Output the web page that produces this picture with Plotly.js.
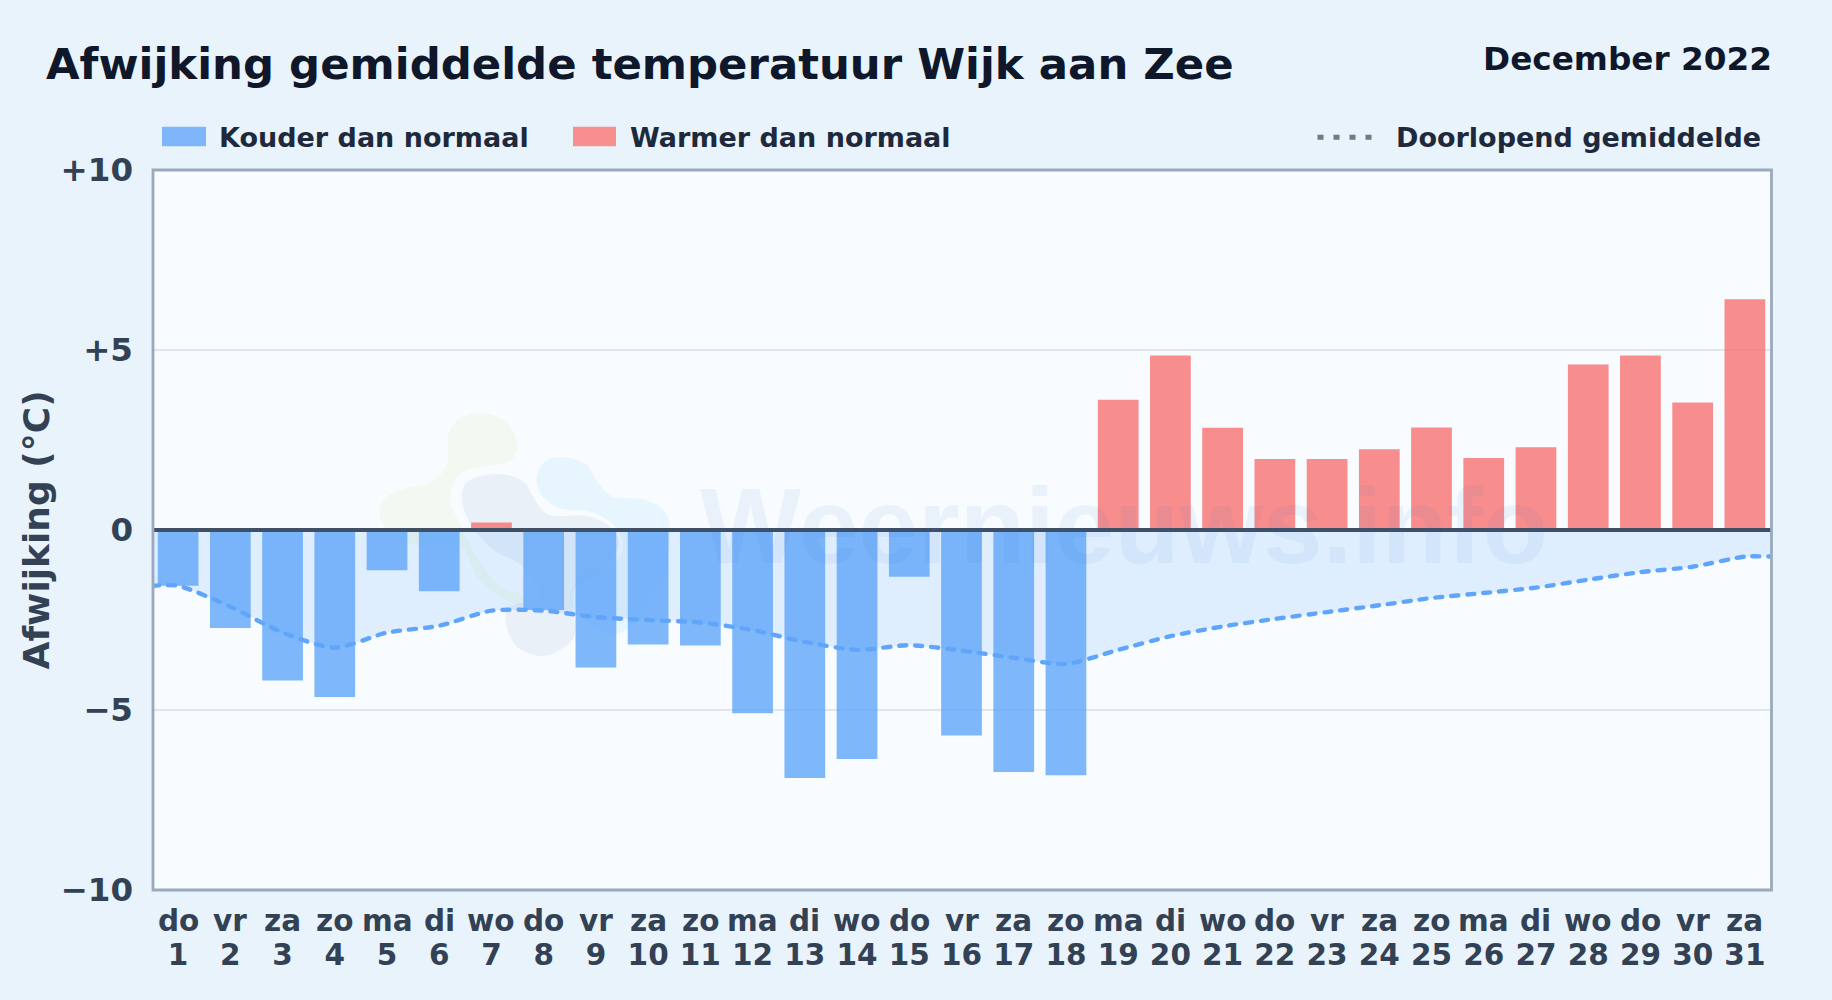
<!DOCTYPE html>
<html><head><meta charset="utf-8">
<script src="https://cdn.plot.ly/plotly-3.0.1.min.js"></script>
<style>html,body{margin:0;padding:0;background:#e8f3fc;overflow:hidden}#c{width:1832px;height:1000px}
.scatterlayer .js-line{stroke-linecap:round}</style>
</head><body><div id="c"></div>
<script>
const days=[1,2,3,4,5,6,7,8,9,10,11,12,13,14,15,16,17,18,19,20,21,22,23,24,25,26,27,28,29,30,31];
const weekdays=['do','vr','za','zo','ma','di','wo','do','vr','za','zo','ma','di','wo','do','vr','za','zo','ma','di','wo','do','vr','za','zo','ma','di','wo','do','vr','za'];
const deviation=[-1.55,-2.72,-4.18,-4.64,-1.12,-1.70,0.21,-2.22,-3.82,-3.18,-3.21,-5.09,-6.89,-6.36,-1.30,-5.71,-6.72,-6.81,3.62,4.85,2.84,1.97,1.97,2.24,2.85,2.00,2.30,4.60,4.85,3.54,6.41];
const runningX=[0.5,1,2,3,4,5,6,7,8,9,10,11,12,13,14,15,16,17,18,19,20,21,22,23,24,25,26,27,28,29,30,31,31.5];
const runningMean=[-1.55,-1.55,-2.13,-2.85,-3.27,-2.85,-2.66,-2.24,-2.24,-2.42,-2.50,-2.57,-2.78,-3.11,-3.33,-3.20,-3.35,-3.55,-3.72,-3.33,-2.95,-2.68,-2.47,-2.28,-2.09,-1.89,-1.75,-1.60,-1.38,-1.17,-1.02,-0.74,-0.74];
const yTicks=[-10,-5,0,5,10];
const yTickText=['\u221210','\u22125','0','+5','+10'];

const W=1832,H=1000,L=152,R=1771,T=169.7,B=890.3;
const fx=p=>(p-L)/(R-L), fy=p=>(B-p)/(B-T);
function blob(pts,color){
  const P=pts.map(([a,b])=>[360+a/3,400+b/3]),n=P.length;
  let d=`M ${fx(P[0][0])} ${fy(P[0][1])}`;
  for(let i=0;i<n;i++){
    const p0=P[(i-1+n)%n],p1=P[i],p2=P[(i+1)%n],p3=P[(i+2)%n];
    const c1=[p1[0]+(p2[0]-p0[0])/6,p1[1]+(p2[1]-p0[1])/6],c2=[p2[0]-(p3[0]-p1[0])/6,p2[1]-(p3[1]-p1[1])/6];
    d+=` C ${fx(c1[0])} ${fy(c1[1])} ${fx(c2[0])} ${fy(c2[1])} ${fx(p2[0])} ${fy(p2[1])}`;
  }
  return {type:'path',xref:'paper',yref:'paper',path:d+' Z',fillcolor:color,line:{width:0},layer:'below'};
}
const green=[[265,105],[300,55],[370,40],[440,65],[472,130],[455,180],[395,195],[320,210],[280,250],[272,310],[300,370],[350,470],[420,560],[490,585],[500,620],[440,600],[360,540],[300,440],[200,440],[100,410],[60,345],[80,290],[140,265],[215,245],[262,190]];
const grey=[[305,290],[330,240],[420,222],[490,245],[525,300],[570,345],[680,348],[750,380],[775,440],[720,520],[640,570],[645,700],[600,750],[540,768],[470,740],[438,670],[450,620],[540,590],[490,500],[400,450],[330,370]];
const blue=[[530,230],[560,180],[620,172],[680,195],[715,250],[760,290],[850,298],[910,330],[930,380],[925,450],[905,560],[800,690],[720,690],[650,640],[630,590],[660,540],[760,490],[790,430],[755,370],[690,335],[600,325],[545,285]];

const dark='#0f172a', legendInk='#1e293b', tick='#334155';
function txt(text,x,y,size,color,anchor){
  return {xref:'paper',yref:'paper',x:fx(x),y:fy(y),text,showarrow:false,xanchor:anchor||'left',yanchor:'middle',
    font:{family:'"DejaVu Sans"',size,color,weight:700}};
}
const traces=[
 {type:'scatter',mode:'lines',x:runningX,y:runningMean,fill:'tozeroy',fillcolor:'rgba(96,165,250,0.16)',
  line:{color:'#60a5fa',width:4.4,dash:'7px 9px',shape:'spline',smoothing:0.7},hoverinfo:'skip',showlegend:false,name:'Doorlopend gemiddelde'},
 {type:'bar',x:days,y:deviation.map(v=>v<0?v:null),width:0.78,marker:{color:'rgba(96,165,250,0.8)',line:{width:0}},name:'Kouder dan normaal',showlegend:false},
 {type:'bar',x:days,y:deviation.map(v=>v>=0?v:null),width:0.78,marker:{color:'rgba(248,113,113,0.8)',line:{width:0}},name:'Warmer dan normaal',showlegend:false}
];
const layout={
 width:W,height:H,paper_bgcolor:'#e8f3fc',plot_bgcolor:'#f8fcff',showlegend:false,barmode:'overlay',
 margin:{l:L,r:W-R,t:T,b:H-B,pad:0},
 title:{text:'Afwijking gemiddelde temperatuur Wijk aan Zee',xref:'container',yref:'container',x:46/W,y:1-64/H,xanchor:'left',yanchor:'middle',
   font:{family:'"DejaVu Sans"',size:43.4,color:dark,weight:700}},
 xaxis:{range:[0.5,31.5],tickmode:'array',tickvals:days,ticktext:days.map(String),showgrid:false,zeroline:false,
   tickfont:{family:'"DejaVu Sans"',size:29.5,color:tick,weight:700},ticks:'',showline:false,tickangle:0,ticklabelstandoff:44},
 yaxis:{range:[-10,10],tickmode:'array',tickvals:yTicks,ticktext:yTickText,gridcolor:'#dde6ee',gridwidth:1.5,zeroline:false,
   tickfont:{family:'"DejaVu Sans"',size:32.5,color:tick,weight:700},ticks:'',showline:false,ticklabelstandoff:18},
 shapes:[
  blob(green,'rgba(190,225,130,0.11)'),blob(grey,'rgba(40,90,160,0.07)'),blob(blue,'rgba(90,185,250,0.1)'),
  {type:'line',xref:'paper',yref:'y',x0:0,x1:1,y0:0,y1:0,line:{color:'#3f4f66',width:4},layer:'above'},
  {type:'rect',xref:'paper',yref:'paper',x0:fx(153),x1:fx(1771.5),y0:0,y1:1,line:{color:'#9aa9bd',width:2.8},layer:'above'},
  {type:'rect',xref:'paper',yref:'paper',x0:fx(162),x1:fx(206),y0:fy(126.5),y1:fy(146),fillcolor:'#7fb6fb',line:{width:0}},
  {type:'rect',xref:'paper',yref:'paper',x0:fx(573),x1:fx(616),y0:fy(126.5),y1:fy(146),fillcolor:'#f88f8f',line:{width:0}},
  {type:'line',xref:'paper',yref:'paper',x0:fx(1317.5),x1:fx(1376),y0:fy(137),y1:fy(137),line:{color:'#6b7a8d',width:5,dash:'6px 10px'}}
 ],
 annotations:[
  {xref:'paper',yref:'paper',x:fx(1123.5),y:fy(526),text:'Weernieuws.info',showarrow:false,xanchor:'center',yanchor:'middle',
   font:{family:'"Liberation Sans"',size:107,color:'rgba(37,110,200,0.07)',weight:700}},
  {xref:'paper',yref:'paper',x:fx(36.4),y:fy(530),text:'Afwijking (°C)',textangle:-90,showarrow:false,xanchor:'center',yanchor:'middle',
   font:{family:'"DejaVu Sans"',size:36,color:tick,weight:700}},
  txt('December 2022',1774,59,32.7,dark,'right'),
  txt('Kouder dan normaal',217,137,27,legendInk),
  txt('Warmer dan normaal',628,137,27,legendInk),
  txt('Doorlopend gemiddelde',1763,137,27,legendInk,'right')
 ].concat(days.map((d,i)=>({xref:'x',yref:'paper',x:d,y:fy(921),text:weekdays[i],showarrow:false,xanchor:'center',yanchor:'middle',
   font:{family:'"DejaVu Sans"',size:29.5,color:tick,weight:700}})))
};
Plotly.newPlot('c',traces,layout,{displayModeBar:false,staticPlot:true});
</script></body></html>
